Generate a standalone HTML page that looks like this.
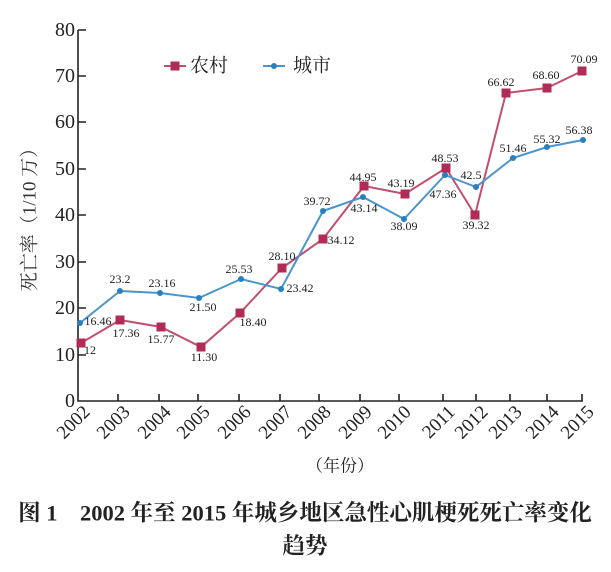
<!DOCTYPE html>
<html><head><meta charset="utf-8"><style>
html,body{margin:0;padding:0;background:#fff;}
svg{display:block;font-family:"Liberation Serif","Noto Serif CJK SC",serif;}
</style></head><body>
<svg width="611" height="572" viewBox="0 0 611 572" xmlns="http://www.w3.org/2000/svg">
<g stroke="#222" stroke-width="1.6" fill="none">
<path d="M78,30 V401 H583"/>
<path d="M78,30h8M78,76h8M78,122h8M78,169h8M78,215h8M78,262h8M78,308h8M78,355h8"/>
<path d="M118,401v-7M159,401v-7M198,401v-7M239,401v-7M280,401v-7M319,401v-7M360,401v-7M399,401v-7M443,401v-7M476,401v-7M510,401v-7M547,401v-7M582,401v-7"/>
</g>
<g font-size="20" fill="#222" text-anchor="end" dominant-baseline="central">
<text x="75" y="30">80</text><text x="75" y="76">70</text><text x="75" y="122">60</text><text x="75" y="169">50</text><text x="75" y="215">40</text><text x="75" y="262">30</text><text x="75" y="308">20</text><text x="75" y="355">10</text><text x="75" y="401">0</text>
</g>
<g font-size="19" fill="#222" text-anchor="end">
<text transform="translate(91,413) rotate(-45)">2002</text>
<text transform="translate(131,413) rotate(-45)">2003</text>
<text transform="translate(172,413) rotate(-45)">2004</text>
<text transform="translate(211,413) rotate(-45)">2005</text>
<text transform="translate(252,413) rotate(-45)">2006</text>
<text transform="translate(293,413) rotate(-45)">2007</text>
<text transform="translate(332,413) rotate(-45)">2008</text>
<text transform="translate(373,413) rotate(-45)">2009</text>
<text transform="translate(412,413) rotate(-45)">2010</text>
<text transform="translate(456,413) rotate(-45)">2011</text>
<text transform="translate(489,413) rotate(-45)">2012</text>
<text transform="translate(523,413) rotate(-45)">2013</text>
<text transform="translate(560,413) rotate(-45)">2014</text>
<text transform="translate(595,413) rotate(-45)">2015</text>
</g>
<text transform="translate(30,215) rotate(-90)" font-size="19" fill="#333" text-anchor="middle" dominant-baseline="central">死亡率（1/10 万）</text>
<polyline fill="none" stroke="#c0506e" stroke-width="2" points="81,343 120,320 161,327 201,347 240,313 282,268 323,239 364,186 405,194 446,168 475,215 506,93 547,88 582,71"/>
<g fill="#b02c55">
<rect x="76.5" y="338.5" width="9" height="9"/><rect x="115.5" y="315.5" width="9" height="9"/><rect x="156.5" y="322.5" width="9" height="9"/><rect x="196.5" y="342.5" width="9" height="9"/><rect x="235.5" y="308.5" width="9" height="9"/><rect x="277.5" y="263.5" width="9" height="9"/><rect x="318.5" y="234.5" width="9" height="9"/><rect x="359.5" y="181.5" width="9" height="9"/><rect x="400.5" y="189.5" width="9" height="9"/><rect x="441.5" y="163.5" width="9" height="9"/><rect x="470.5" y="210.5" width="9" height="9"/><rect x="501.5" y="88.5" width="9" height="9"/><rect x="542.5" y="83.5" width="9" height="9"/><rect x="577.5" y="66.5" width="9" height="9"/>
</g>
<polyline fill="none" stroke="#4a95cc" stroke-width="2" points="80,323 120,291 160,293 199,298 241,279 281,289 323,211 363,197 404,219 445,175 476,187 513,158 547,147 583,140"/>
<g fill="#2a7fbf">
<circle cx="80" cy="323" r="3"/><circle cx="120" cy="291" r="3"/><circle cx="160" cy="293" r="3"/><circle cx="199" cy="298" r="3"/><circle cx="241" cy="279" r="3"/><circle cx="281" cy="289" r="3"/><circle cx="323" cy="211" r="3"/><circle cx="363" cy="197" r="3"/><circle cx="404" cy="219" r="3"/><circle cx="445" cy="175" r="3"/><circle cx="476" cy="187" r="3"/><circle cx="513" cy="158" r="3"/><circle cx="547" cy="147" r="3"/><circle cx="583" cy="140" r="3"/>
</g>
<g font-size="12" fill="#222" text-anchor="middle" dominant-baseline="central">
<text x="90" y="350">12</text><text x="126" y="333">17.36</text><text x="161" y="339">15.77</text><text x="204" y="357">11.30</text><text x="253" y="322">18.40</text><text x="282" y="256">28.10</text><text x="341" y="240">34.12</text><text x="363" y="177">44.95</text><text x="401" y="183">43.19</text><text x="445" y="158">48.53</text><text x="476" y="225">39.32</text><text x="501" y="82">66.62</text><text x="546" y="75">68.60</text><text x="584" y="59">70.09</text>
<text x="98" y="321">16.46</text><text x="120" y="279">23.2</text><text x="162" y="283">23.16</text><text x="203" y="307">21.50</text><text x="239" y="269">25.53</text><text x="300" y="288">23.42</text><text x="317" y="201">39.72</text><text x="364" y="208">43.14</text><text x="404" y="226">38.09</text><text x="443" y="194">47.36</text><text x="471" y="175">42.5</text><text x="513" y="148">51.46</text><text x="547" y="139">55.32</text><text x="579" y="130">56.38</text>
</g>
<line x1="164" y1="66" x2="186" y2="66" stroke="#c0506e" stroke-width="2"/>
<rect x="170.5" y="61.5" width="9" height="9" fill="#b02c55"/>
<text x="190" y="66" font-size="19" fill="#222" dominant-baseline="central">农村</text>
<line x1="263" y1="66" x2="285" y2="66" stroke="#4a95cc" stroke-width="2"/>
<circle cx="274" cy="66" r="3" fill="#2a7fbf"/>
<text x="293" y="66" font-size="19" fill="#222" dominant-baseline="central">城市</text>
<text x="340" y="466" font-size="17" fill="#222" text-anchor="middle" dominant-baseline="central">（年份）</text>
<text x="305" y="513" font-size="22.5" font-weight="bold" fill="#222" text-anchor="middle" dominant-baseline="central">图 1　2002 年至 2015 年城乡地区急性心肌梗死死亡率变化</text>
<text x="305" y="546" font-size="22.5" font-weight="bold" fill="#222" text-anchor="middle" dominant-baseline="central">趋势</text>
</svg>
</body></html>
